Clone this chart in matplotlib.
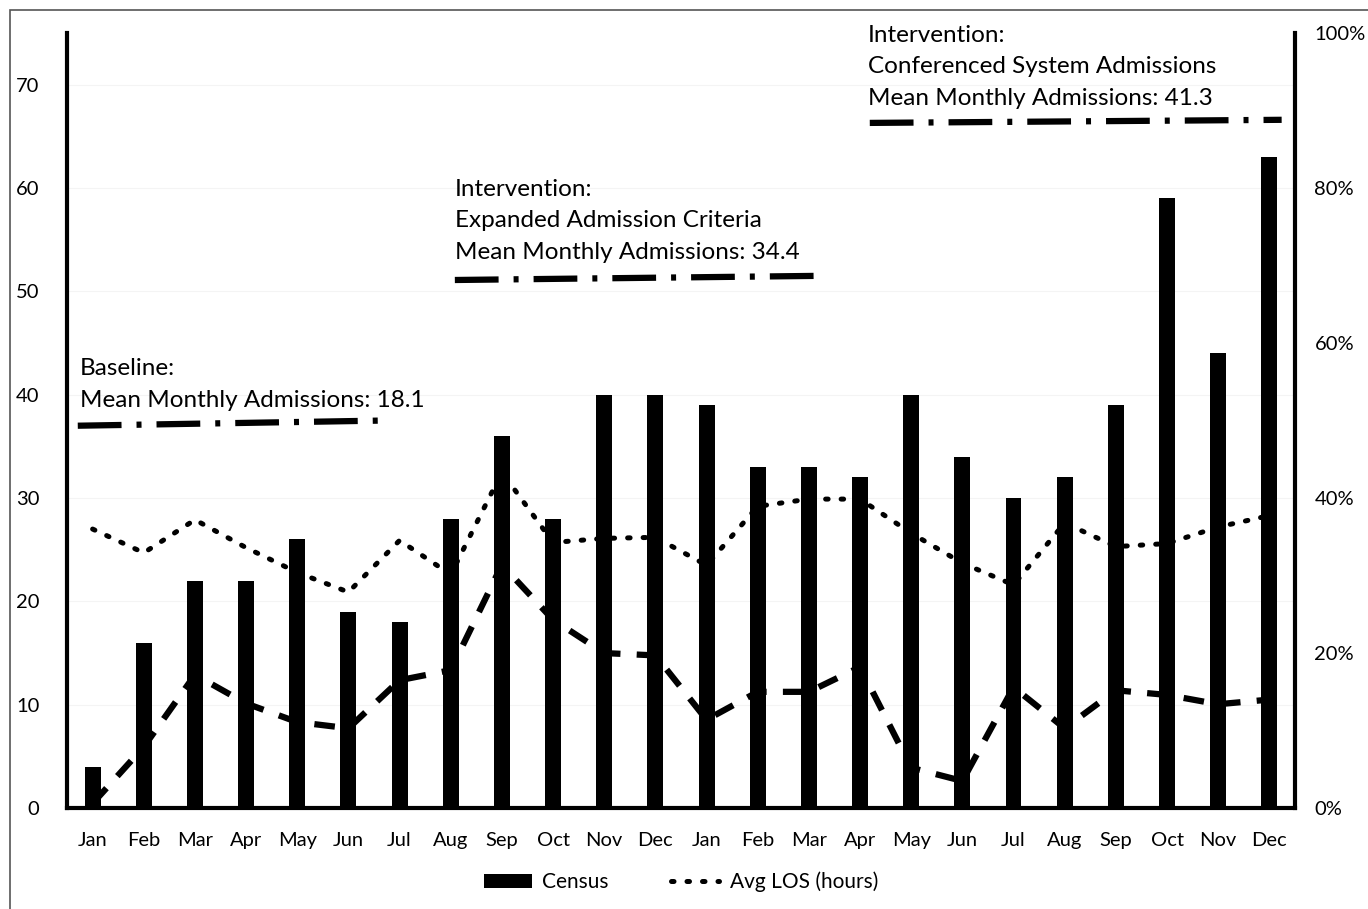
import matplotlib.pyplot as plt
from matplotlib.patches import Rectangle
from matplotlib.ticker import PercentFormatter
import numpy as np

plt.rcParams['font.family'] = ['Lato', 'DejaVu Sans']

months = ["Jan", "Feb", "Mar", "Apr", "May", "Jun", "Jul", "Aug", "Sep", "Oct", "Nov", "Dec",
          "Jan", "Feb", "Mar", "Apr", "May", "Jun", "Jul", "Aug", "Sep", "Oct", "Nov", "Dec"]
census = [4, 16, 22, 22, 26, 19, 18, 28, 36, 28, 40, 40,
          39, 33, 33, 32, 40, 34, 30, 32, 39, 59, 44, 63]
avg_los = [27.0, 24.7, 27.9, 25.2, 22.8, 20.9, 25.9, 22.6, 32.5, 25.7, 26.1, 26.2,
           23.5, 29.2, 29.9, 29.9, 26.6, 23.7, 21.6, 27.6, 25.3, 25.6, 27.2, 28.3]
pct = [0.6, 7.9, 17.2, 13.5, 11.1, 10.3, 16.5, 17.8, 31.4, 24.3, 20.0, 19.7,
       11.4, 15.0, 15.0, 18.2, 5.2, 3.5, 15.6, 10.3, 15.2, 14.6, 13.4, 14.0]

# phase annotations: label lines, mean-line x span and y ends
phase_text = [["Baseline:", "Mean Monthly Admissions: 18.1"],
              ["Intervention:", "Expanded Admission Criteria", "Mean Monthly Admissions: 34.4"],
              ["Intervention:", "Conferenced System Admissions", "Mean Monthly Admissions: 41.3"]]
phase_x = [(-0.29, 5.68), (7.08, 14.18), (15.19, 23.24)]
phase_y = [(37.0, 37.5), (51.1, 51.5), (66.3, 66.6)]
text_x = [-0.25, 7.08, 15.15]
text_top = [42.5, 59.9, 74.8]

fig = plt.figure(figsize=(13.68, 9.09), dpi=100)
fig.patches.append(Rectangle((10 / 1368, -0.1), 1.2, 1 - 10 / 909 + 0.1, transform=fig.transFigure,
                             fill=False, edgecolor="#555555", linewidth=1.2))
ax = fig.add_axes([0.049, 0.111, 0.8976, 0.8527])
x = np.arange(len(months))

bars = ax.bar(x, census, width=0.31, color="black", label="Census", zorder=3)
los_line, = ax.plot(x, avg_los, color="black", linestyle=(0, (0.5, 2.6)), linewidth=3.6,
                    dash_capstyle="round", label="Avg LOS (hours)", zorder=4)

for lines, (x0, x1), (y0, y1), tx, ty in zip(phase_text, phase_x, phase_y, text_x, text_top):
    ax.plot([x0, x1], [y0, y1], color="black", linewidth=4.5,
            linestyle=(0, (7, 2.4, 0.8, 2.4)), zorder=4)
    for k, line in enumerate(lines):
        ax.text(tx, ty - 3.05 * k, line, fontsize=17.5, va="center", ha="left")

ax.set_xlim(-0.5, 23.5)
ax.set_ylim(0, 75)
ax.set_yticks(range(0, 80, 10))
ax.set_xticks(x)
ax.set_xticklabels(months)
ax.tick_params(axis="both", length=0, labelsize=14.5)
ax.tick_params(axis="y", pad=20)
ax.tick_params(axis="x", pad=17)
ax.grid(axis="y", color="#f4f4f4", linewidth=0.8, zorder=0)
ax.spines["top"].set_visible(False)
ax.spines["right"].set_visible(False)
ax.spines["left"].set_linewidth(3)
ax.spines["bottom"].set_linewidth(3)

ax2 = ax.twinx()
ax2.plot(x, np.array(pct) / 100, color="black", linestyle=(0, (3.3, 2.6)), linewidth=4.5, zorder=4)
ax2.set_ylim(0, 1)
ax2.set_yticks(np.arange(0, 1.01, 0.2))
ax2.yaxis.set_major_formatter(PercentFormatter(1.0, decimals=0))
ax2.tick_params(axis="y", length=0, labelsize=14.5, pad=14)
ax2.spines["top"].set_visible(False)
ax2.spines["left"].set_visible(False)
ax2.spines["bottom"].set_visible(False)
ax2.spines["right"].set_linewidth(3)

ax.legend([bars, los_line], ["Census", "Avg LOS (hours)"], loc="upper center",
          bbox_to_anchor=(0.5, -0.058), ncol=2, frameon=False,
          fontsize=15, handlelength=2.3, columnspacing=3.0, handletextpad=0.5)

fig.savefig("out.png", dpi=100)
